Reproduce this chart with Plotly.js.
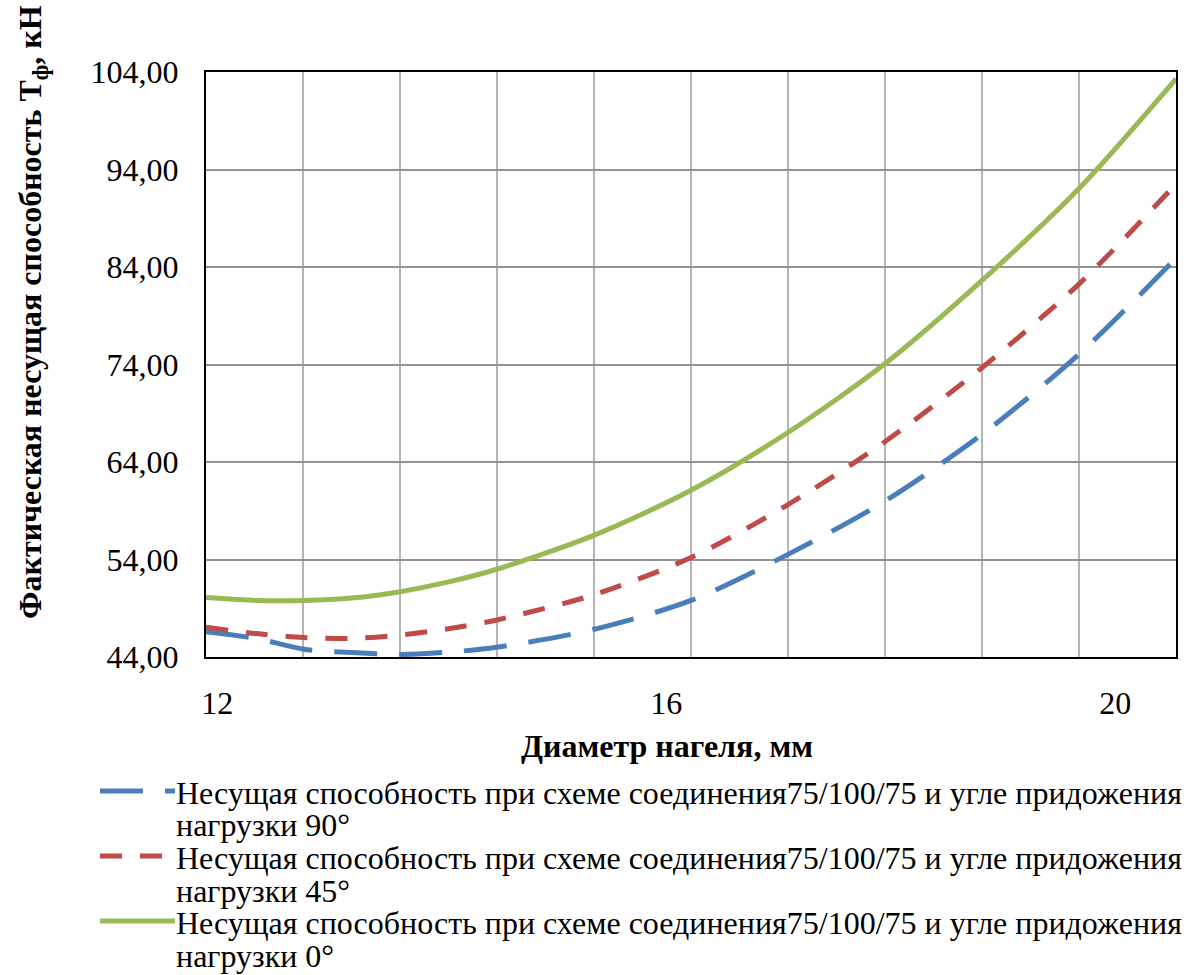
<!DOCTYPE html>
<html>
<head>
<meta charset="utf-8">
<script src="https://cdn.plot.ly/plotly-3.0.1.min.js"></script>
<style>html,body{margin:0;padding:0;background:#fff;}</style>
</head>
<body>
<div id="chart" style="width:1194px;height:975px;"></div>
<script>
// Diameter of dowel, mm (positions)
const diameter = [11.90, 12.35, 12.77, 13.20, 13.63, 14.06, 14.49, 15.36, 16.22, 17.08, 17.95, 18.82, 19.68, 20.54];
// Bearing capacity, kN
const load90 = [46.6, 45.9, 44.8, 44.45, 44.25, 44.5, 45.0, 46.85, 49.8, 54.5, 60.0, 66.9, 75.1, 84.9];
const load45 = [47.05, 46.4, 46.0, 45.9, 46.25, 46.9, 47.8, 50.4, 54.2, 59.6, 66.1, 73.75, 82.3, 92.5];
const load0  = [50.1, 49.8, 49.8, 50.05, 50.7, 51.7, 53.0, 56.5, 61.1, 67.0, 74.1, 82.7, 92.1, 103.3];

const seriesNames = [
  "Несущая способность при схеме соединения75/100/75 и угле придожения<br>нагрузки 90°",
  "Несущая способность при схеме соединения75/100/75 и угле придожения<br>нагрузки 45°",
  "Несущая способность при схеме соединения75/100/75 и угле придожения<br>нагрузки 0°"
];
const xTickVals = [12, 16, 20];
const yTickVals = [44, 54, 64, 74, 84, 94, 104];
const xTitle = "<b>Диаметр нагеля, мм</b>";
const yTitle = "<b>Фактическая несущая способность Т<sub>ф</sub>, кН</b>";

const FONT = "Liberation Serif, Times New Roman, serif";
const FS = 32;
const xRange = [diameter[0], diameter[diameter.length - 1]];
const gridVals = Array.from({length: 11}, (_, k) => xRange[0] + k * (xRange[1] - xRange[0]) / 10);

const styles = [
  {color: '#4a7ebb', width: 5, dash: '43px,22px'},
  {color: '#be4b48', width: 5, dash: '22px,18px'},
  {color: '#98b954', width: 5, dash: 'solid'}
];
const series = [load90, load45, load0];

const traces = series.map((ys, i) => ({
  x: diameter, y: ys, name: seriesNames[i], type: 'scatter', mode: 'lines', showlegend: false,
  line: {color: styles[i].color, width: styles[i].width, dash: styles[i].dash, shape: 'spline', smoothing: 0.8}
}));

// Plot area in pixels (for converting the hand-made legend position to paper coords)
const PL = 206, PR = 1176, PT = 72, PB = 657;
const px2x = p => (p - PL) / (PR - PL);
const px2y = p => (PB - p) / (PB - PT);

const annotations = [
  {text: xTitle, xref: 'paper', yref: 'paper', x: px2x(667), y: px2y(746),
   xanchor: 'center', yanchor: 'middle', showarrow: false,
   font: {family: FONT, size: FS, color: '#000'}},
  {text: yTitle, xref: 'paper', yref: 'paper', x: px2x(32), y: px2y(312),
   xanchor: 'center', yanchor: 'middle', showarrow: false, textangle: -90,
   font: {family: FONT, size: FS, color: '#000'}}
];
const shapes = [];
const legendTop = 793, lineGap = 32.5, itemGap = 65;
seriesNames.forEach((name, i) => {
  const lines = name.split('<br>');
  const yc = legendTop + i * itemGap;
  lines.forEach((ln, j) => {
    annotations.push({text: ln, xref: 'paper', yref: 'paper', x: px2x(174), y: px2y(yc + j * lineGap),
      xanchor: 'left', yanchor: 'middle', showarrow: false, align: 'left',
      font: {family: FONT, size: FS, color: '#000'}});
  });
  shapes.push({type: 'line', xref: 'paper', yref: 'paper',
    x0: px2x(100), x1: px2x(175), y0: px2y(yc - 2), y1: px2y(yc - 2),
    line: {color: styles[i].color, width: styles[i].width, dash: styles[i].dash}});
});

const layout = {
  width: 1194, height: 975,
  margin: {l: PL, r: 1194 - PR, t: PT, b: 975 - PB, autoexpand: false},
  paper_bgcolor: '#fff', plot_bgcolor: '#fff',
  separators: ', ',
  font: {family: FONT, size: FS, color: '#000'},
  showlegend: false,
  xaxis: {
    range: xRange, tickvals: xTickVals, ticktext: xTickVals.map(String),
    showgrid: false, zeroline: false,
    showline: true, linecolor: '#000', linewidth: 2, mirror: true,
    ticks: '', ticklabelstandoff: 17,
    tickfont: {family: FONT, size: FS, color: '#000'},
    minor: {tickmode: 'array', tickvals: gridVals, showgrid: true,
            gridcolor: '#b5b5b5', gridwidth: 2, ticks: ''}
  },
  yaxis: {
    range: [44, 104], tickvals: yTickVals, tickformat: '.2f',
    showgrid: true, gridcolor: '#939393', gridwidth: 2, zeroline: false,
    showline: true, linecolor: '#000', linewidth: 2, mirror: true,
    ticks: '', ticklabelstandoff: 19,
    tickfont: {family: FONT, size: FS, color: '#000'}
  },
  annotations: annotations,
  shapes: shapes
};

Plotly.newPlot('chart', traces, layout, {staticPlot: true, displayModeBar: false});
</script>
</body>
</html>
